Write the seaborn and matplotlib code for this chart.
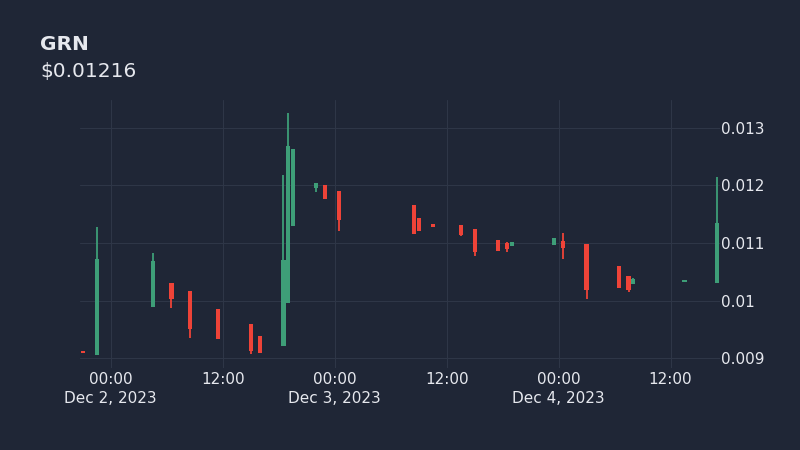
import pandas as pd
import matplotlib.pyplot as plt
import matplotlib.dates as mdates
import seaborn as sns

# Dữ liệu nến (30 phút)
times = ['2023-12-01 21:00', '2023-12-01 22:30', '2023-12-02 04:30', '2023-12-02 06:30',
         '2023-12-02 08:30', '2023-12-02 11:30', '2023-12-02 15:00', '2023-12-02 16:00',
         '2023-12-02 18:30', '2023-12-02 19:00', '2023-12-02 19:30', '2023-12-02 22:00',
         '2023-12-02 23:00', '2023-12-03 00:30', '2023-12-03 08:30', '2023-12-03 09:00',
         '2023-12-03 10:30', '2023-12-03 13:30', '2023-12-03 15:00', '2023-12-03 17:30',
         '2023-12-03 18:30', '2023-12-03 19:00', '2023-12-03 23:30', '2023-12-04 00:30',
         '2023-12-04 03:00', '2023-12-04 06:30', '2023-12-04 07:30', '2023-12-04 08:00',
         '2023-12-04 13:30', '2023-12-04 17:00']
opens = [0.00913, 0.00905, 0.00988, 0.01030, 0.01017, 0.00985, 0.00960, 0.00938,
         0.00921, 0.00995, 0.01130, 0.01195, 0.01201, 0.01191, 0.01166, 0.01143,
         0.01133, 0.01131, 0.01124, 0.01106, 0.01100, 0.01094, 0.01097, 0.01104,
         0.01098, 0.01060, 0.01043, 0.01029, 0.01032, 0.01031]
highs = [0.00913, 0.01128, 0.01082, 0.01030, 0.01017, 0.00985, 0.00960, 0.00938,
         0.01218, 0.01326, 0.01263, 0.01204, 0.01201, 0.01191, 0.01166, 0.01143,
         0.01133, 0.01131, 0.01124, 0.01106, 0.01102, 0.01102, 0.01108, 0.01117,
         0.01098, 0.01060, 0.01043, 0.01040, 0.01036, 0.01215]
lows = [0.00908, 0.00905, 0.00988, 0.00987, 0.00935, 0.00933, 0.00907, 0.00908,
        0.00921, 0.00995, 0.01130, 0.01188, 0.01177, 0.01120, 0.01116, 0.01121,
        0.01127, 0.01112, 0.01077, 0.01086, 0.01085, 0.01094, 0.01097, 0.01072,
        0.01002, 0.01022, 0.01015, 0.01029, 0.01032, 0.01031]
closes = [0.00909, 0.01072, 0.01068, 0.01003, 0.00950, 0.00933, 0.00913, 0.00908,
          0.01070, 0.01268, 0.01263, 0.01204, 0.01177, 0.01140, 0.01116, 0.01121,
          0.01127, 0.01114, 0.01085, 0.01086, 0.01090, 0.01102, 0.01108, 0.01091,
          0.01018, 0.01022, 0.01018, 0.01037, 0.01036, 0.01134]

y_ticks = [0.009, 0.01, 0.011, 0.012, 0.013]
x_ticks = ['2023-12-02 00:00', '2023-12-02 12:00', '2023-12-03 00:00',
           '2023-12-03 12:00', '2023-12-04 00:00', '2023-12-04 12:00']

df = pd.DataFrame({'time': pd.to_datetime(times), 'open': opens, 'high': highs,
                   'low': lows, 'close': closes})
df['up'] = df['close'] >= df['open']

bg = '#1f2636'
grid_c = '#2e3647'
text_c = '#e6e8ee'
green = '#3e9e78'
red = '#ee4338'

sns.set_theme(style='darkgrid', rc={
    'figure.facecolor': bg, 'axes.facecolor': bg, 'grid.color': grid_c,
    'grid.linewidth': 0.8, 'xtick.color': text_c, 'ytick.color': text_c,
    'axes.edgecolor': bg, 'text.color': text_c})
plt.rcParams['font.family'] = ['DejaVu Sans']

fig = plt.figure(figsize=(8, 4.5), dpi=100)
ax = fig.add_axes([0.1, 0.182, 0.8, 0.596])

colors = [green if u else red for u in df['up']]
x = mdates.date2num(df['time'])
ax.vlines(x, df['low'], df['high'], colors=colors, linewidth=1.3, zorder=2)
body_bottom = df[['open', 'close']].min(axis=1)
body_h = (df['close'] - df['open']).abs().clip(lower=0.00003)
ax.bar(x, body_h, bottom=body_bottom, width=0.019, color=colors, linewidth=0, zorder=3)

ax.set_xlim(mdates.date2num(pd.Timestamp('2023-12-01 20:42')),
            mdates.date2num(pd.Timestamp('2023-12-04 17:18')))
ax.set_ylim(0.008826, 0.013487)

ax.yaxis.tick_right()
ax.set_yticks(y_ticks)
ax.set_yticklabels([f'{v:g}' for v in y_ticks], fontsize=11)

xt = pd.to_datetime(x_ticks)
ax.set_xticks(mdates.date2num(xt))
labels = []
for t in xt:
    if t.hour == 0:
        labels.append(f"{t:%H:%M}\n{t:%b} {t.day}, {t.year}")
    else:
        labels.append(f"{t:%H:%M}\n")
ax.set_xticklabels(labels, fontsize=11, linespacing=1.3)
ax.tick_params(axis='x', length=0, pad=3)
ax.tick_params(axis='y', length=0, pad=1)

for s in ax.spines.values():
    s.set_visible(False)

fig.text(0.05, 0.889, 'GRN', fontsize=14.5, fontweight='bold', color=text_c, va='baseline')
fig.text(0.05, 0.829, '$0.01216', fontsize=14.5, color=text_c, va='baseline')

plt.savefig('out.png', dpi=100, facecolor=bg)
plt.close()
